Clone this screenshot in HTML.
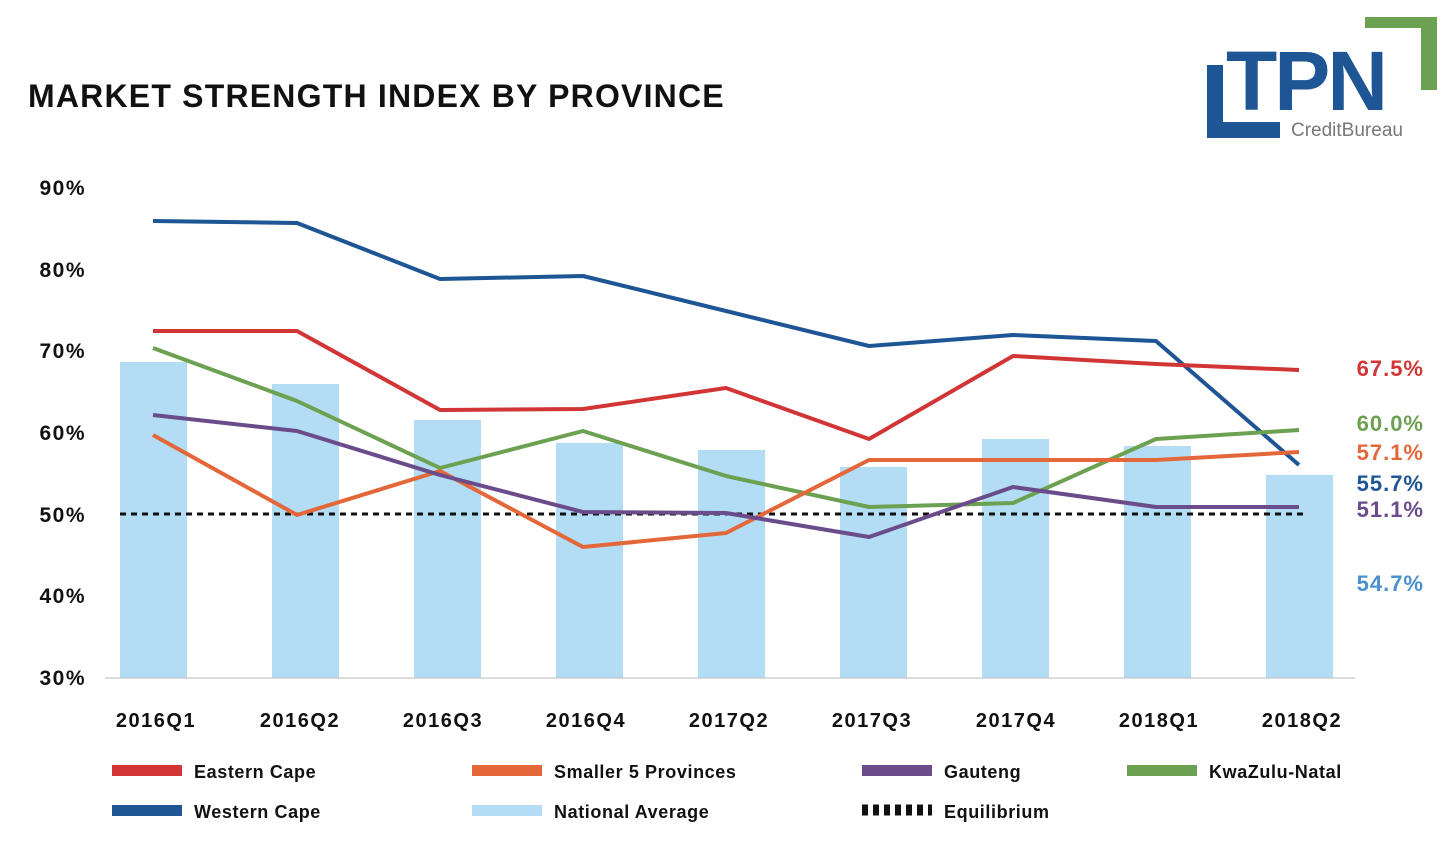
<!DOCTYPE html>
<html><head><style>
body{margin:0;background:#fff;width:1456px;height:838px;overflow:hidden;font-family:"Liberation Sans",sans-serif}
</style></head><body>
<svg width="1456" height="838" xmlns="http://www.w3.org/2000/svg" font-family="Liberation Sans, sans-serif">
<text x="28" y="107" font-size="32" font-weight="bold" fill="#111" letter-spacing="1.2">MARKET STRENGTH INDEX BY PROVINCE</text>
<!-- logo -->
<rect x="1365" y="17" width="72" height="11" fill="#6ba150"/>
<rect x="1421" y="17" width="16" height="73" fill="#6ba150"/>
<rect x="1207" y="65" width="16" height="73" fill="#1e5594"/>
<rect x="1207" y="122" width="73" height="16" fill="#1e5594"/>
<text x="1226" y="110" font-size="84" font-weight="bold" fill="#1e5594" letter-spacing="-3">TPN</text>
<text x="1291" y="136" font-size="19" fill="#777">CreditBureau</text>
<!-- y labels -->
<g font-size="21" font-weight="bold" fill="#111" text-anchor="end" letter-spacing="1.5">
<text x="86" y="195">90%</text><text x="86" y="277">80%</text><text x="86" y="358">70%</text>
<text x="86" y="440">60%</text><text x="86" y="522">50%</text><text x="86" y="603">40%</text><text x="86" y="685">30%</text>
</g>
<!-- bars -->
<g fill="#b3ddf4">
<rect x="120" y="362" width="67" height="316"/><rect x="272" y="384" width="67" height="294"/>
<rect x="414" y="420" width="67" height="258"/><rect x="556" y="443" width="67" height="235"/>
<rect x="698" y="450" width="67" height="228"/><rect x="840" y="467" width="67" height="211"/>
<rect x="982" y="439" width="67" height="239"/><rect x="1124" y="446" width="67" height="232"/>
<rect x="1266" y="475" width="67" height="203"/>
</g>
<line x1="105" y1="678" x2="1355" y2="678" stroke="#bbb" stroke-width="1"/>
<line x1="120" y1="514" x2="1305" y2="514" stroke="#111" stroke-width="3" stroke-dasharray="6,5"/>
<g fill="none" stroke-width="4" stroke-linejoin="round">
<polyline stroke="#1e5594" points="153,221 297,223 440,279 583,276 726,311 869,346 1013,335 1156,341 1299,465"/>
<polyline stroke="#d13535" points="153,331 297,331 440,410 583,409 726,388 869,439 1013,356 1156,364 1299,370"/>
<polyline stroke="#6ba150" points="153,348 297,401 440,468 583,431 726,476 869,507 1013,503 1156,439 1299,430"/>
<polyline stroke="#e4673a" points="153,435 297,515 440,471 583,547 726,533 869,460 1013,460 1156,460 1299,452"/>
<polyline stroke="#6b4c8a" points="153,415 297,431 440,475 583,512 726,513 869,537 1013,487 1156,507 1299,507"/>
</g>
<g font-size="22" font-weight="bold" text-anchor="end" letter-spacing="1">
<text x="1424" y="376" fill="#d13535">67.5%</text>
<text x="1424" y="431" fill="#6ba150">60.0%</text>
<text x="1424" y="460" fill="#e4673a">57.1%</text>
<text x="1424" y="491" fill="#1e5594">55.7%</text>
<text x="1424" y="517" fill="#6b4c8a">51.1%</text>
<text x="1424" y="591" fill="#4a90cf">54.7%</text>
</g>
<g font-size="20" font-weight="bold" fill="#111" text-anchor="middle" letter-spacing="1.5">
<text x="156" y="727">2016Q1</text><text x="300" y="727">2016Q2</text><text x="443" y="727">2016Q3</text>
<text x="586" y="727">2016Q4</text><text x="729" y="727">2017Q2</text><text x="872" y="727">2017Q3</text>
<text x="1016" y="727">2017Q4</text><text x="1159" y="727">2018Q1</text><text x="1302" y="727">2018Q2</text>
</g>
<!-- legend -->
<g font-size="18" font-weight="bold" fill="#111" letter-spacing="0.6">
<rect x="112" y="765" width="70" height="11" fill="#d13535"/><text x="194" y="778">Eastern Cape</text>
<rect x="472" y="765" width="70" height="11" fill="#e4673a"/><text x="554" y="778">Smaller 5 Provinces</text>
<rect x="862" y="765" width="70" height="11" fill="#6b4c8a"/><text x="944" y="778">Gauteng</text>
<rect x="1127" y="765" width="70" height="11" fill="#6ba150"/><text x="1209" y="778">KwaZulu-Natal</text>
<rect x="112" y="805" width="70" height="11" fill="#1e5594"/><text x="194" y="818">Western Cape</text>
<rect x="472" y="805" width="70" height="11" fill="#b3ddf4"/><text x="554" y="818">National Average</text>
<line x1="862" y1="810" x2="932" y2="810" stroke="#111" stroke-width="11" stroke-dasharray="6,5"/><text x="944" y="818">Equilibrium</text>
</g>
</svg>
</body></html>
